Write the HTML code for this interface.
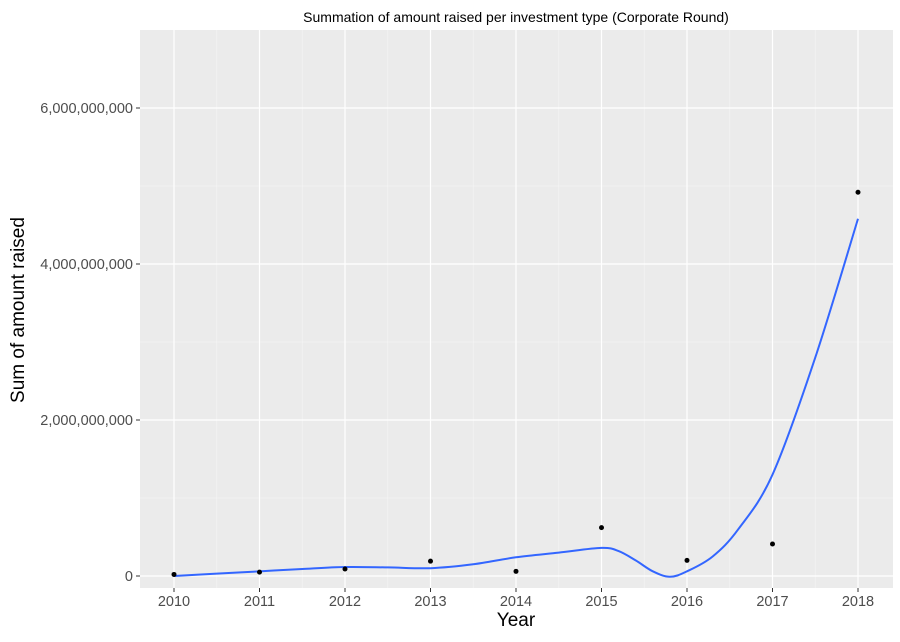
<!DOCTYPE html>
<html><head><meta charset="utf-8"><style>
body{margin:0;background:#fff;font-family:"Liberation Sans",Arial,sans-serif}
</style></head><body>
<svg id="chart" width="900" height="637" xmlns="http://www.w3.org/2000/svg">
<text x="516" y="22" font-size="14" text-anchor="middle" fill="#000">Summation of amount raised per investment type (Corporate Round)</text>
<rect x="140" y="30" width="753" height="558" fill="#ebebeb"/>
<g id="grid"></g>
<g id="marks"></g>
<g id="axes"></g>
<text x="516" y="626" font-size="19" text-anchor="middle" fill="#000">Year</text>
<text transform="translate(24,310) rotate(-90)" font-size="19" text-anchor="middle" fill="#000">Sum of amount raised</text>
</svg>
<script>
const years=[2010,2011,2012,2013,2014,2015,2016,2017,2018];
const amounts=[0.02e9,0.05e9,0.09e9,0.19e9,0.06e9,0.62e9,0.2e9,0.41e9,4.92e9];
const smoothX=[2010,2010.5,2011,2011.5,2012,2012.5,2013,2013.5,2014,2014.5,2015,2015.2,2015.4,2015.6,2015.8,2016,2016.3,2016.6,2017,2017.5,2018];
const smoothY=[0,0.03e9,0.06e9,0.09e9,0.115e9,0.11e9,0.1e9,0.15e9,0.24e9,0.3e9,0.36e9,0.32e9,0.2e9,0.06e9,-0.01e9,0.06e9,0.25e9,0.6e9,1.3e9,2.8e9,4.58e9];
const yTicks=[0,2e9,4e9,6e9];
const yTickLabels=["0","2,000,000,000","4,000,000,000","6,000,000,000"];
const NS="http://www.w3.org/2000/svg";
const xs=v=>174+(v-2010)*85.5;
const ys=v=>576-v/2e9*156;
const grid=document.getElementById('grid'),marks=document.getElementById('marks'),axes=document.getElementById('axes');
function mk(tag,attrs,parent){const e=document.createElementNS(NS,tag);for(const k in attrs)e.setAttribute(k,attrs[k]);parent.appendChild(e);return e;}
for(let i=0;i<years.length-1;i++){const x=xs(years[i]+0.5);const l=mk('line',{x1:x,x2:x,y1:30,y2:588,stroke:'#f5f5f5','stroke-width':0.6},grid);

}
for(let i=0;i<yTicks.length;i++){const y=ys(yTicks[i]+1e9);if(y>30){const l=mk('line',{x1:140,x2:893,y1:y,y2:y,stroke:'#f5f5f5','stroke-width':0.6},grid);

}}
years.forEach(yr=>{const x=xs(yr);const l=mk('line',{x1:x,x2:x,y1:30,y2:588,stroke:'#fff','stroke-width':1.2},grid);


const t=mk('line',{x1:x,x2:x,y1:588,y2:592,stroke:'#333','stroke-width':1},axes);


const tx=mk('text',{x:x,y:606,'font-size':14.5,'text-anchor':'middle',fill:'#4d4d4d'},axes);tx.textContent=yr;

});
yTicks.forEach((v,i)=>{const y=ys(v);const l=mk('line',{x1:140,x2:893,y1:y,y2:y,stroke:'#fff','stroke-width':1.2},grid);


const t=mk('line',{x1:136,x2:140,y1:y,y2:y,stroke:'#333','stroke-width':1},axes);


const tx=mk('text',{x:133,y:y+5,'font-size':14.5,'text-anchor':'end',fill:'#4d4d4d'},axes);tx.textContent=yTickLabels[i];

});
const pts=smoothX.map((x,i)=>[xs(x),ys(smoothY[i])]);
let d='M'+pts[0][0]+','+pts[0][1];
for(let i=0;i<pts.length-1;i++){const p0=pts[i-1]||pts[i],p1=pts[i],p2=pts[i+1],p3=pts[i+2]||p2;
d+=` C${p1[0]+(p2[0]-p0[0])/6},${p1[1]+(p2[1]-p0[1])/6} ${p2[0]-(p3[0]-p1[0])/6},${p2[1]-(p3[1]-p1[1])/6} ${p2[0]},${p2[1]}`;}
const path=mk('path',{d:d,fill:'none',stroke:'#3366ff','stroke-width':2},marks);


years.forEach((yr,i)=>{const c=mk('circle',{cx:xs(yr),cy:ys(amounts[i]),r:2.5,fill:'#000'},marks);

});
</script>
</body></html>
